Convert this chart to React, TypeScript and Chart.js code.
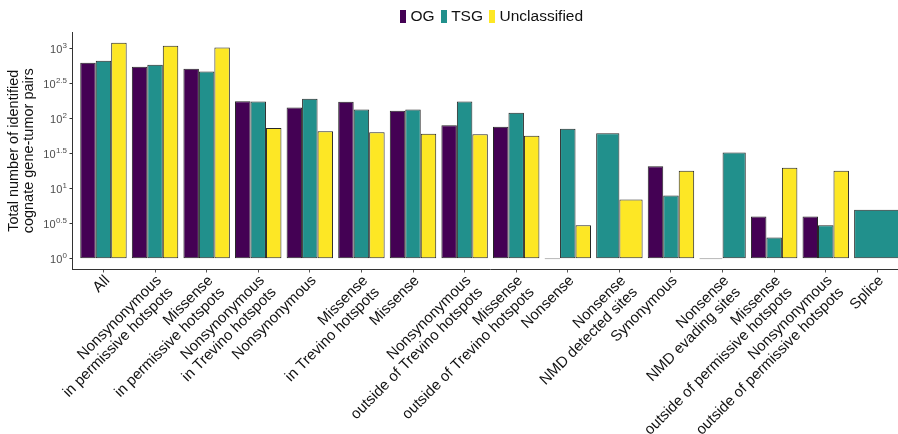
import React, { useEffect, useRef } from 'react';
import { Chart, registerables } from 'chart.js';

Chart.register(...registerables);

// Mutation-class categories along the x axis (multi-line labels)
const categories: string[][] = [
  ['All'],
  ['Nonsynonymous', 'in permissive hotspots'],
  ['Missense', 'in permissive hotspots'],
  ['Nonsynonymous', 'in Trevino hotspots'],
  ['Nonsynonymous'],
  ['Missense', 'in Trevino hotspots'],
  ['Missense'],
  ['Nonsynonymous', 'outside of Trevino hotspots'],
  ['Missense', 'outside of Trevino hotspots'],
  ['Nonsense'],
  ['Nonsense', 'NMD detected sites'],
  ['Synonymous'],
  ['Nonsense', 'NMD evading sites'],
  ['Missense', 'outside of permissive hotspots'],
  ['Nonsynonymous', 'outside of permissive hotspots'],
  ['Splice'],
];

// Counts of cognate gene-tumor pairs per gene class (null = class absent)
const ogCounts: (number | null)[] = [631, 553, 518, 178, 145, 175, 130, 81, 77, 1, null, 21, 1, 4, 4, null];
const tsgCounts: (number | null)[] = [676, 591, 474, 177, 193, 136, 136, 177, 122, 72, 62, 8, 33, 2, 3, 5];
const unclassifiedCounts: (number | null)[] = [1219, 1104, 1044, 74, 66, 64, 61, 60, 57, 3, 7, 18, null, 20, 18, null];

const seriesNames = ['OG', 'TSG', 'Unclassified'];
const seriesColors = ['#440154', '#21908C', '#FDE725'];
const seriesValues = [ogCounts, tsgCounts, unclassifiedCounts];

// Log10 exponents shown on the y axis
const yTickExponents = ['0', '0.5', '1', '1.5', '2', '2.5', '3'];

const FONT = '"Liberation Sans", Arial, sans-serif';

// Draws "10" with a superscript exponent next to each y tick
const powerTickLabels = {
  id: 'powerTickLabels',
  afterDraw(chart: any) {
    const scale = chart.scales.y;
    const ctx = chart.ctx as CanvasRenderingContext2D;
    const right = chart.chartArea.left - 5.5;
    ctx.save();
    ctx.fillStyle = '#4d4d4d';
    scale.ticks.forEach((t: any, i: number) => {
      const y = scale.getPixelForValue(t.value);
      const exp = yTickExponents[i];
      ctx.font = `8px ${FONT}`;
      const ws = ctx.measureText(exp).width;
      ctx.textAlign = 'left';
      ctx.textBaseline = 'alphabetic';
      ctx.fillText(exp, right - ws, y - 0.5);
      ctx.font = `11px ${FONT}`;
      const wb = ctx.measureText('10').width;
      ctx.textBaseline = 'middle';
      ctx.fillText('10', right - ws - wb - 0.3, y + 1.5);
    });
    ctx.restore();
  },
};

export default function App() {
  const canvasRef = useRef<HTMLCanvasElement | null>(null);

  useEffect(() => {
    if (!canvasRef.current) return;
    const chart = new Chart(canvasRef.current, {
      type: 'bar',
      data: {
        datasets: seriesNames.map((name, k) => ({
          label: name,
          data: categories.map((_, i) => ({ x: i + 1, y: seriesValues[k][i] })) as any,
          backgroundColor: seriesColors[k],
          borderColor: (c: any) => (c.raw && c.raw.y === 1 ? '#8c8c8c' : '#262626'),
          borderWidth: 1,
          borderSkipped: false,
          base: 1,
          minBarLength: 1,
          skipNull: true,
          categoryPercentage: 0.9,
          barPercentage: 1,
        })),
      },
      options: {
        animation: false,
        responsive: false,
        devicePixelRatio: 1,
        layout: { padding: { top: 32, right: 3.7, bottom: 0, left: 0 } },
        plugins: {
          legend: { display: false },
          tooltip: { enabled: false },
        },
        scales: {
          x: {
            type: 'linear',
            offset: false,
            min: 0.4,
            max: 16.6,
            afterBuildTicks: (s: any) => {
              s.ticks = categories.map((_, i) => ({ value: i + 1 }));
            },
            afterFit: (s: any) => {
              s.height = 164.5;
            },
            ticks: {
              autoSkip: false,
              minRotation: 45,
              maxRotation: 45,
              padding: 0,
              labelOffset: 4,
              color: '#111111',
              font: { family: FONT, size: 15, lineHeight: 1.1 },
              callback: (v: any) => categories[Number(v) - 1],
            },
            grid: { drawOnChartArea: false, tickLength: 3, color: '#555', offset: false },
            border: { color: '#333', width: 1 },
          },
          y: {
            type: 'logarithmic',
            min: Math.pow(10, -0.154),
            max: Math.pow(10, 3.24),
            afterBuildTicks: (s: any) => {
              s.ticks = yTickExponents.map((e) => ({ value: Math.pow(10, Number(e)) }));
            },
            afterFit: (s: any) => {
              s.width = 72.5;
            },
            ticks: { display: false },
            grid: { drawOnChartArea: false, tickLength: 3, color: '#333' },
            border: { color: '#333', width: 1 },
            title: {
              display: true,
              text: ['Total number of identified', 'cognate gene-tumor pairs'],
              color: '#111111',
              font: { family: FONT, size: 14.5, lineHeight: 1.05 },
              padding: { top: 6.5, bottom: 0 },
            },
          },
        },
      } as any,
      plugins: [powerTickLabels],
    });
    return () => chart.destroy();
  }, []);

  return (
    <div
      style={{
        position: 'absolute',
        left: 0,
        top: 0,
        width: 898,
        height: 434,
        overflow: 'hidden',
        background: '#ffffff',
      }}
    >
      <canvas
        ref={canvasRef}
        width={912}
        height={434}
        style={{ position: 'absolute', left: 0, top: 0, width: 912, height: 434 }}
      />
      <div
        style={{
          position: 'absolute',
          top: 7,
          left: 400,
          display: 'flex',
          alignItems: 'center',
          font: `15.5px ${FONT}`,
          lineHeight: '18px',
          color: '#111111',
          whiteSpace: 'nowrap',
        }}
      >
        {seriesNames.map((name, i) => (
          <span key={name} style={{ display: 'flex', alignItems: 'center', marginRight: 6 }}>
            <span
              style={{
                display: 'inline-block',
                width: 6,
                height: 13,
                background: seriesColors[i],
                marginRight: 4.5,
              }}
            />
            {name}
          </span>
        ))}
      </div>
    </div>
  );
}
